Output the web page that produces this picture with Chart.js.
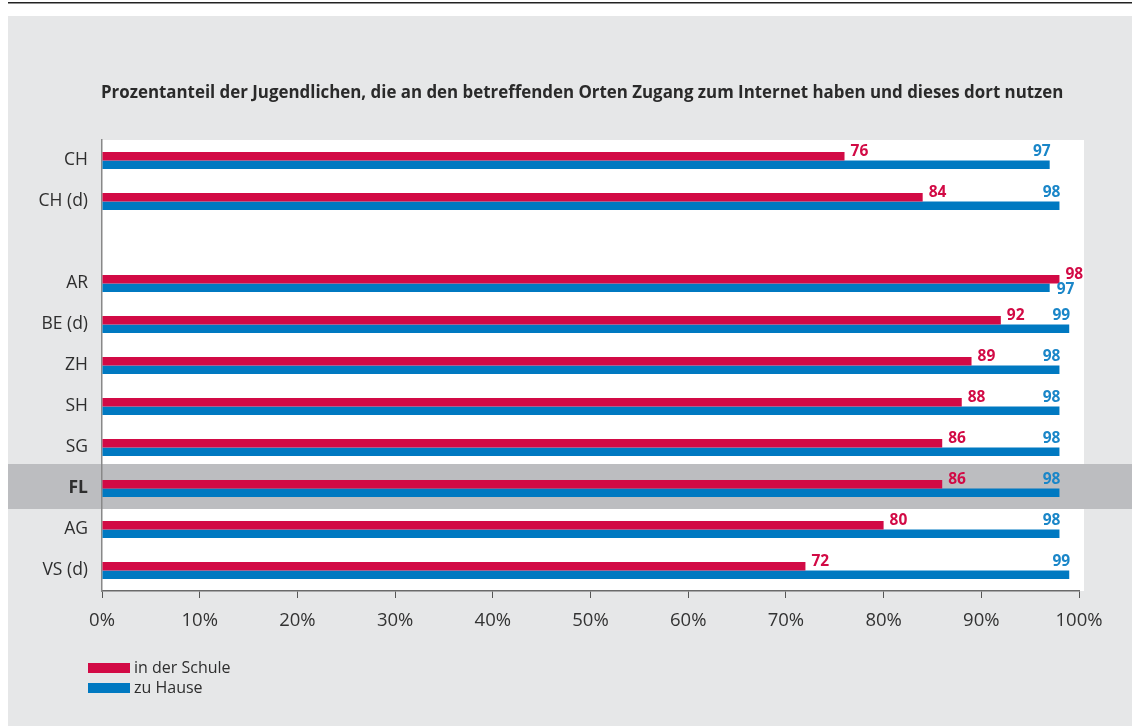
<!DOCTYPE html>
<html>
<head>
<meta charset="utf-8">
<script src="https://cdn.jsdelivr.net/npm/chart.js@4.4.1/dist/chart.umd.min.js"></script>
<style>
  html, body { margin: 0; padding: 0; background: #ffffff; }
  #wrap { position: relative; width: 1132px; height: 726px; }
</style>
</head>
<body>
<div id="wrap"><canvas id="c" width="1132" height="726"></canvas></div>
<script>
const titleText = 'Prozentanteil der Jugendlichen, die an den betreffenden Orten Zugang zum Internet haben und dieses dort nutzen';
const categories = ['CH', 'CH (d)', '', 'AR', 'BE (d)', 'ZH', 'SH', 'SG', 'FL', 'AG', 'VS (d)'];
const schuleValues = [76, 84, null, 98, 92, 89, 88, 86, 86, 80, 72];
const hauseValues  = [97, 98, null, 97, 99, 98, 98, 98, 98, 98, 99];
const seriesNames = ['in der Schule', 'zu Hause'];
const highlightCategory = 'FL';
const xTickValues = [0, 10, 20, 30, 40, 50, 60, 70, 80, 90, 100];

const RED = '#d20a45';
const BLUE = '#0079c1';
const BLUE_LABEL = '#1a86c8';
const BG_GRAY = '#e6e7e8';
const BAND_GRAY = '#bcbdc0';
const FONT = '"Open Sans", "DejaVu Sans", sans-serif';

const backgroundPlugin = {
  id: 'bg',
  beforeDraw(chart) {
    const { ctx, chartArea, scales } = chart;
    const W = chart.width, H = chart.height;
    ctx.save();
    ctx.fillStyle = '#ffffff';
    ctx.fillRect(0, 0, W, H);
    ctx.fillStyle = BG_GRAY;
    ctx.fillRect(8, 16, W - 8, H - 16);
    ctx.fillStyle = '#222222';
    ctx.fillRect(8, 2, W - 8, 1.5);
    ctx.fillStyle = '#ffffff';
    ctx.fillRect(chartArea.left, chartArea.top, chartArea.right - chartArea.left + 5, chartArea.bottom - chartArea.top);
    const idx = categories.indexOf(highlightCategory);
    if (idx >= 0) {
      const yc = scales.y.getPixelForValue(idx);
      ctx.fillStyle = BAND_GRAY;
      ctx.fillRect(8, yc - 24.5, W - 8, 45);
    }
    ctx.restore();
  },
  afterDraw(chart) {
    const { ctx } = chart;
    ctx.save();
    // title
    let size = 15;
    ctx.font = `bold ${size}px ${FONT}`;
    const w = ctx.measureText(titleText).width;
    size = size * 963 / w;
    ctx.font = `bold ${size}px ${FONT}`;
    ctx.fillStyle = '#2a2a2a';
    ctx.textAlign = 'left';
    ctx.textBaseline = 'middle';
    ctx.fillText(titleText, 101, 93);
    // legend
    const colors = [RED, BLUE];
    const rows = [668, 688];
    ctx.font = `16px ${FONT}`;
    seriesNames.forEach((name, i) => {
      ctx.fillStyle = colors[i];
      ctx.fillRect(88, rows[i] - 5, 42, 10);
      ctx.fillStyle = '#2e2e2e';
      ctx.fillText(name, 134, rows[i]);
    });
    ctx.restore();
  }
};

const labelPlugin = {
  id: 'valueLabels',
  afterDatasetsDraw(chart) {
    const { ctx } = chart;
    const redMeta = chart.getDatasetMeta(0);
    const blueMeta = chart.getDatasetMeta(1);
    ctx.save();
    ctx.font = `bold 15.5px ${FONT}`;
    ctx.textBaseline = 'middle';
    categories.forEach((c, i) => {
      const r = schuleValues[i], b = hauseValues[i];
      if (r == null || b == null) return;
      const rb = redMeta.data[i], bb = blueMeta.data[i];
      const labelY = rb.y - 5;
      ctx.fillStyle = RED;
      ctx.textAlign = 'left';
      ctx.fillText(String(r), rb.x + 6, labelY);
      ctx.fillStyle = BLUE_LABEL;
      if (r >= b) {
        ctx.textAlign = 'left';
        ctx.fillText(String(b), bb.x + 7, bb.y + 2);
      } else {
        ctx.textAlign = 'right';
        ctx.fillText(String(b), bb.x + 1, labelY);
      }
    });
    ctx.restore();
  }
};

new Chart(document.getElementById('c'), {
  type: 'bar',
  data: {
    labels: categories,
    datasets: [
      { label: seriesNames[0], data: schuleValues, backgroundColor: RED, borderWidth: 0,
        categoryPercentage: 0.415, barPercentage: 1.0 },
      { label: seriesNames[1], data: hauseValues, backgroundColor: BLUE, borderWidth: 0,
        categoryPercentage: 0.415, barPercentage: 1.0 }
    ]
  },
  options: {
    indexAxis: 'y',
    responsive: false,
    animation: false,
    layout: { padding: { left: 0, top: 140, right: 53, bottom: 0 } },
    plugins: {
      legend: { display: false },
      title: { display: false },
      tooltip: { enabled: false }
    },
    scales: {
      x: {
        type: 'linear',
        min: 0, max: 100,
        afterBuildTicks(scale) { scale.ticks = xTickValues.map(v => ({ value: v })); },
        afterFit(scale) { scale.height = 135; },
        grid: { drawOnChartArea: false, drawTicks: true, tickLength: 7, color: '#555555', lineWidth: 1 },
        border: { display: true, color: '#6a6a6a', width: 1.5 },
        ticks: {
          padding: 12,
          color: '#333333',
          font: { family: FONT, size: 18.5 },
          callback: v => v + '%',
          maxRotation: 0
        }
      },
      y: {
        type: 'category',
        afterFit(scale) { scale.width = 102; },
        grid: { drawOnChartArea: false, drawTicks: false },
        border: { display: true, color: '#888888', width: 1.5 },
        ticks: {
          padding: 14,
          color: '#2e2e2e',
          font: (ctx) => (ctx.tick && ctx.tick.label === highlightCategory)
            ? { family: FONT, size: 17.5, weight: 'bold' }
            : { family: FONT, size: 17.5 }
        }
      }
    }
  },
  plugins: [backgroundPlugin, labelPlugin]
});
</script>
</body>
</html>
